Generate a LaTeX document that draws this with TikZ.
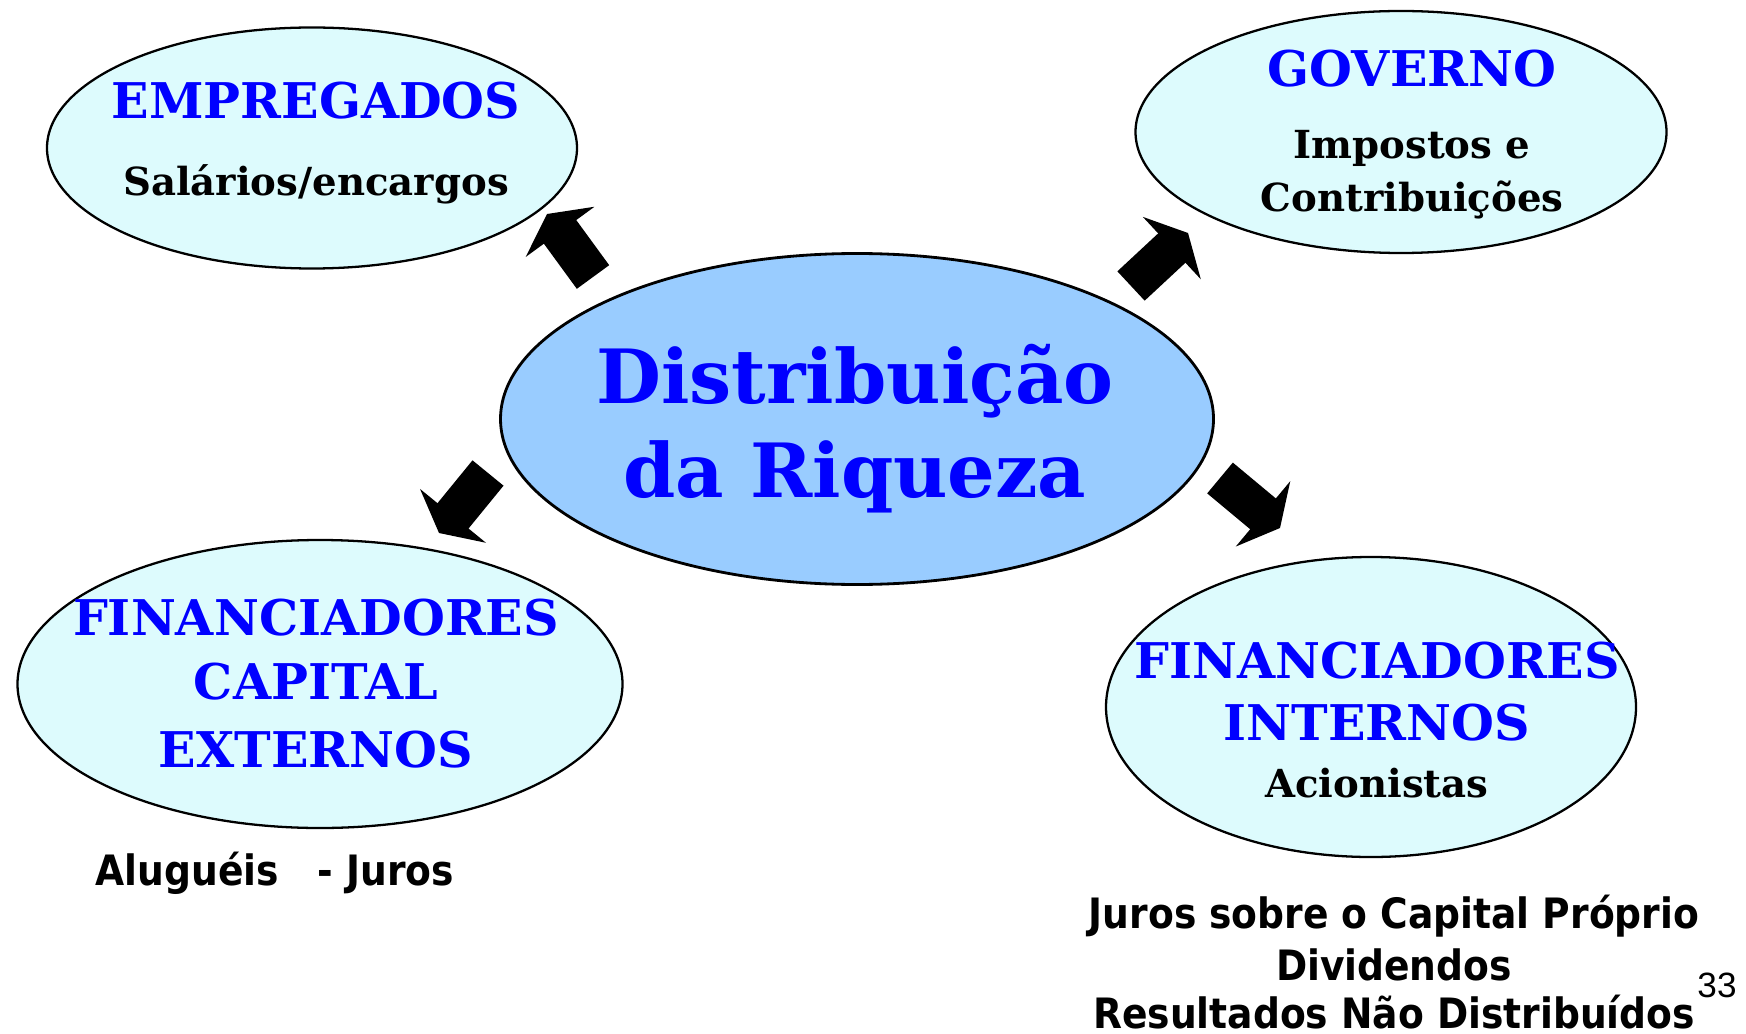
\documentclass[tikz,border=0pt]{standalone}
\usepackage{fontspec}
\setmainfont{DejaVu Serif}
\newfontfamily\handfont{DejaVu Sans Condensed}
\newfontfamily\slidefont{Liberation Sans}
\usepackage{xcolor}
\usepackage{tikz}
\usetikzlibrary{arrows.meta}
\usetikzlibrary{shapes.geometric}
\definecolor{pale}{RGB}{221,251,253}
\definecolor{sky}{RGB}{153,204,255}
\definecolor{ink}{RGB}{0,0,255}
\tikzset{
    bubble/.style = {ellipse, draw=black, fill=pale, line width=0.65pt, inner sep=0pt},
    core/.style = {bubble, fill=sky, line width=0.8pt},
    title/.style = {anchor=base, inner sep=0pt, text=ink, font=\fontsize{14}{14}\selectfont\bfseries},
    bigtitle/.style = {title, font=\fontsize{21.3}{21.3}\selectfont\bfseries},
    sub/.style = {anchor=base, inner sep=0pt, font=\fontsize{11}{11}\selectfont\bfseries},
    note/.style = {anchor=base, inner sep=0pt, font=\handfont\fontsize{11.9}{11.9}\selectfont\bfseries},
    block/.style = {line width=11.4pt, -{Triangle[length=6.3pt 0 0, width=24pt 0 0]}}
}

\begin{document}
\begin{tikzpicture}[x=0.1mm, y=-0.1mm]
    \useasboundingbox (0,0) rectangle (1746,1033);
    % ellipses
    \node [bubble, minimum width=53mm, minimum height=24.1mm] (empr) at (312,148) {};
    \node [bubble, minimum width=53.1mm, minimum height=24.2mm] (gov) at (1401,132) {};
    \node [core, minimum width=71.3mm, minimum height=33.1mm] (riq) at (857,419) {};
    \node [bubble, minimum width=60.5mm, minimum height=28.8mm] (fext) at (320,684) {};
    \node [bubble, minimum width=53mm, minimum height=30mm] (fint) at (1371,707) {};
    % texts
    \node [title] (empr-t) at (316,119) {EMPREGADOS};
    \node [sub] (empr-s) at (316,196) {Salários/encargos};
    \node [title] (gov-t) at (1412,87) {GOVERNO};
    \node [sub] (gov-s1) at (1412,159) {Impostos e};
    \node [sub] (gov-s2) at (1412,212) {Contribuições};
    \node [bigtitle] (riq-t1) at (855,403) {Distribuição};
    \node [bigtitle] (riq-t2) at (855,497) {da Riqueza};
    \node [title] (fext-t1) at (316,635) {FINANCIADORES};
    \node [title] (fext-t2) at (316,699) {CAPITAL};
    \node [title] (fext-t3) at (316,767) {EXTERNOS};
    \node [title] (fint-t1) at (1377,678) {FINANCIADORES};
    \node [title] (fint-t2) at (1377,740) {INTERNOS};
    \node [sub] (fint-s) at (1377,797) {Acionistas};
    \node [note, anchor=base west] (ext-n) at (95,885) {Aluguéis\hspace{11pt}- Juros};
    \node [note] (int-n1) at (1394,928) {Juros sobre o Capital Próprio};
    \node [note] (int-n2) at (1394,980) {Dividendos};
    \node [note] (int-n3) at (1394,1028) {Resultados Não Distribuídos};
    \node [anchor=base, inner sep=0pt, font=\slidefont\fontsize{10}{10}\selectfont] (page) at (1717,997) {33};
    % block arrows
    \coordinate (a1s) at (593,277);
    \coordinate (a1e) at (547,214);
    \coordinate (a2s) at (1131,286);
    \coordinate (a2e) at (1188,233);
    \coordinate (a3s) at (488,473);
    \coordinate (a3e) at (439,533);
    \coordinate (a4s) at (1220,478);
    \coordinate (a4e) at (1280,528);
    \draw [block] (a1s) -- (a1e);
    \draw [block] (a2s) -- (a2e);
    \draw [block] (a3s) -- (a3e);
    \draw [block] (a4s) -- (a4e);
\end{tikzpicture}
\end{document}
